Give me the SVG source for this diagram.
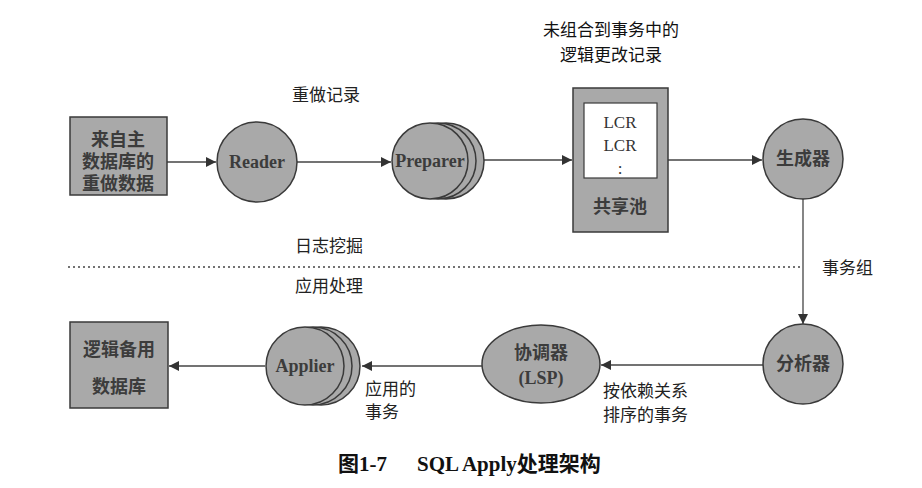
<svg xmlns="http://www.w3.org/2000/svg" width="922" height="488" viewBox="0 0 922 488">
<style>
.node{fill:#a9a9a9;stroke:#3a3a3a;stroke-width:1.5}
.inner{fill:#ffffff;stroke:#3a3a3a;stroke-width:1.2}
.edge{stroke:#444;stroke-width:1.3;fill:none}
.ntxt{font-family:"Liberation Serif","Noto Sans CJK SC",serif;font-size:18px;fill:#3c3c3c;text-anchor:middle;font-weight:bold}
.lbl{font-family:"Liberation Serif","Noto Sans CJK SC",serif;font-size:17px;fill:#222;text-anchor:start}
.ttl{font-family:"Liberation Serif","Noto Sans CJK SC",serif;font-size:17px;fill:#111;text-anchor:middle}
.lcr{font-family:"Liberation Serif","Noto Sans CJK SC",serif;font-size:17px;fill:#333;text-anchor:middle}
.cap{font-family:"Liberation Serif","Noto Sans CJK SC",serif;font-size:21px;fill:#111;font-weight:bold;text-anchor:start}
</style>
<defs>
<marker id="arr" viewBox="0 0 10 10" refX="10" refY="5" markerWidth="10" markerHeight="10" markerUnits="userSpaceOnUse" orient="auto">
<path d="M0,0 L10,5 L0,10 z" fill="#333"/>
</marker>
</defs>
<rect width="922" height="488" fill="#ffffff"/>
<g id="connectors">
<line class="edge" x1="167" y1="162" x2="216" y2="162" marker-end="url(#arr)"/>
<line class="edge" x1="297" y1="162" x2="391" y2="162" marker-end="url(#arr)"/>
<line class="edge" x1="484" y1="160" x2="572" y2="160" marker-end="url(#arr)"/>
<line class="edge" x1="668" y1="160" x2="762" y2="160" marker-end="url(#arr)"/>
<line class="edge" x1="803" y1="199" x2="803" y2="324" marker-end="url(#arr)"/>
<line class="edge" x1="763" y1="365" x2="601" y2="365" marker-end="url(#arr)"/>
<line class="edge" x1="482" y1="366" x2="362" y2="366" marker-end="url(#arr)"/>
<line class="edge" x1="265" y1="366" x2="169" y2="366" marker-end="url(#arr)"/>
<line x1="68" y1="267" x2="803" y2="267" stroke="#444" stroke-width="1.3" stroke-dasharray="2,3"/>
</g>
<g id="labels">
<text class="lbl" x="292" y="101">重做记录</text>
<text class="ttl" x="611" y="36">未组合到事务中的</text>
<text class="ttl" x="611" y="61">逻辑更改记录</text>
<text class="lbl" x="295" y="252">日志挖掘</text>
<text class="lbl" x="822" y="274">事务组</text>
<text class="lbl" x="295" y="292">应用处理</text>
<text class="lbl" x="603" y="397">按依赖关系</text>
<text class="lbl" x="603" y="421">排序的事务</text>
<text class="lbl" x="365" y="395">应用的</text>
<text class="lbl" x="365" y="418">事务</text>
</g>
<g id="source">
<rect class="node" x="70" y="117" width="97" height="78"/>
<text class="ntxt" x="118" y="146">来自主</text>
<text class="ntxt" x="118" y="168">数据库的</text>
<text class="ntxt" x="118" y="190">重做数据</text>
</g>
<g id="reader">
<circle class="node" cx="257" cy="162" r="40"/>
<text class="ntxt" x="257" y="168" font-size="16">Reader</text>
</g>
<g id="preparer">
<circle class="node" cx="446" cy="161" r="38"/>
<circle class="node" cx="438" cy="161" r="38"/>
<circle class="node" cx="430" cy="161" r="38"/>
<text class="ntxt" x="430" y="167" font-size="16">Preparer</text>
</g>
<g id="pool">
<rect class="node" x="573" y="88" width="95" height="144"/>
<rect class="inner" x="584" y="103" width="73" height="75"/>
<text class="lcr" x="620" y="128">LCR</text>
<text class="lcr" x="620" y="151">LCR</text>
<text class="lcr" x="620" y="174" font-size="14">:</text>
<text class="ntxt" x="620" y="213">共享池</text>
</g>
<g id="builder">
<circle class="node" cx="803" cy="159" r="40"/>
<text class="ntxt" x="803" y="165">生成器</text>
</g>
<g id="analyzer">
<circle class="node" cx="803" cy="364" r="40"/>
<text class="ntxt" x="803" y="370">分析器</text>
</g>
<g id="coordinator">
<ellipse class="node" cx="541" cy="364" rx="59" ry="39"/>
<text class="ntxt" x="541" y="359">协调器</text>
<text class="ntxt" x="541" y="384" font-size="16">(LSP)</text>
</g>
<g id="applier">
<circle class="node" cx="321" cy="366" r="39"/>
<circle class="node" cx="313" cy="366" r="39"/>
<circle class="node" cx="305" cy="366" r="39"/>
<text class="ntxt" x="305" y="372" font-size="16">Applier</text>
</g>
<g id="standby">
<rect class="node" x="70" y="322" width="98" height="86"/>
<text class="ntxt" x="119" y="356">逻辑备用</text>
<text class="ntxt" x="119" y="393">数据库</text>
</g>
<g id="caption">
<text class="cap" x="338" y="471">图1-7</text>
<text class="cap" x="417" y="471">SQL Apply处理架构</text>
</g>
</svg>
